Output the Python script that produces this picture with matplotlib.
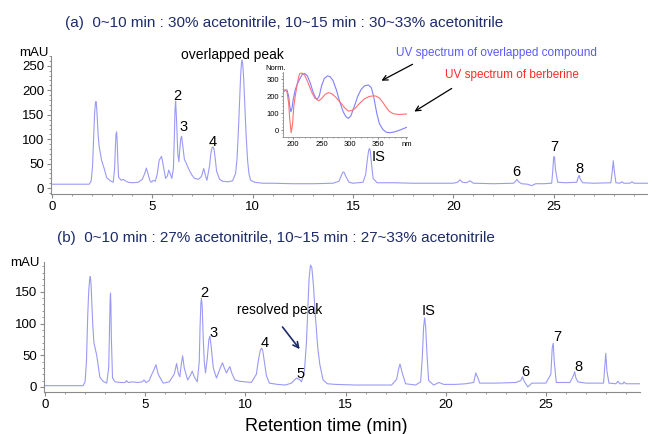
import matplotlib
matplotlib.use("Agg")
import matplotlib.pyplot as plt
from matplotlib.ticker import MultipleLocator

plt.rcParams['font.family'] = ['Liberation Sans', 'DejaVu Sans']

# cromatograma (a): tiempo (min) y señal (mAU)
tiempo_a = [0, 1.85, 1.95, 2.02, 2.07, 2.12, 2.16, 2.19, 2.22, 2.26, 2.3, 2.35, 2.47, 2.6, 2.72,
            2.9, 3.05, 3.12, 3.16, 3.19, 3.22, 3.25, 3.28, 3.32, 3.45, 3.55, 3.65, 3.8, 4.0, 4.3,
            4.5, 4.62, 4.7, 4.78, 4.88, 4.95, 5.05, 5.15, 5.25, 5.34, 5.46, 5.55, 5.66, 5.75, 5.82,
            5.9, 5.97, 6.05, 6.1, 6.13, 6.16, 6.2, 6.27, 6.32, 6.38, 6.42, 6.46, 6.52, 6.6, 6.68,
            6.8, 6.95, 7.1, 7.3, 7.45, 7.56, 7.65, 7.72, 7.85, 7.92, 7.98, 8.03, 8.08, 8.14, 8.2,
            8.35, 8.5, 8.8, 9.0, 9.15, 9.22, 9.28, 9.35, 9.4, 9.44, 9.47, 9.5, 9.55, 9.6, 9.67,
            9.75, 9.82, 9.9, 10.1, 10.5, 11.0, 12, 13, 14.0, 14.3, 14.42, 14.5, 14.56, 14.64, 14.8,
            15.0, 15.5, 15.63, 15.72, 15.78, 15.82, 15.86, 15.92, 16.0, 16.2, 17.0, 18, 19, 20.0,
            20.2, 20.33, 20.45, 20.65, 20.83, 21.0, 22, 23.0, 23.1, 23.17, 23.25, 23.4, 23.7, 23.9,
            24.1, 24.5, 24.9, 24.96, 25.0, 25.04, 25.09, 25.2, 25.6, 26.15, 26.22, 26.27, 26.33,
            26.45, 27.0, 27.85, 27.92, 27.97, 28.02, 28.1, 28.3, 28.4, 28.5, 28.8, 28.9, 29.0, 29.7]
senal_a = [8, 8, 14, 45, 100, 150, 172, 177, 168, 140, 108, 85, 57, 40, 22,
           15, 12, 40, 85, 110, 115, 95, 55, 22, 16, 18, 15, 12, 11, 12,
           18, 30, 41, 30, 15, 12, 16, 14, 30, 57, 65, 45, 20, 25, 37,
           28, 20, 40, 110, 160, 178, 145, 70, 54, 85, 102, 106, 85, 58, 52,
           40, 28, 20, 18, 24, 40, 25, 16, 45, 72, 83, 84, 78, 58, 35,
           18, 14, 13, 15, 30, 60, 110, 180, 230, 255, 262, 255, 225, 175, 110,
           55, 28, 16, 12, 10, 10, 9, 9, 10, 14, 26, 33, 32, 24, 12,
           10, 12, 28, 60, 77, 81, 76, 50, 20, 11, 11, 10, 10, 10,
           12, 17, 12, 11, 15, 10, 9, 10, 14, 18, 13, 9, 8, 5,
           9, 9, 10, 38, 64, 64, 38, 12, 11, 12, 22, 26, 18,
           11, 10, 11, 35, 56, 35, 11, 10, 13, 10, 10, 13, 10, 10]

# cromatograma (b)
tiempo_b = [0, 1.9, 2.0, 2.07, 2.13, 2.18, 2.23, 2.26, 2.3, 2.34, 2.39, 2.44, 2.58, 2.74, 2.9,
            3.08, 3.18, 3.22, 3.25, 3.27, 3.29, 3.31, 3.37, 3.5, 3.8, 4.0, 4.07, 4.15, 4.4, 4.6,
            4.85, 4.94, 5.05, 5.2, 5.32, 5.45, 5.54, 5.65, 5.9, 6.2, 6.45, 6.57, 6.65, 6.73, 6.8,
            6.87, 6.95, 7.12, 7.25, 7.35, 7.45, 7.6, 7.7, 7.74, 7.78, 7.81, 7.85, 7.9, 7.95, 8.01,
            8.1, 8.18, 8.23, 8.3, 8.4, 8.56, 8.75, 8.86, 8.95, 9.06, 9.15, 9.23, 9.32, 9.48, 9.7,
            10.0, 10.3, 10.55, 10.65, 10.75, 10.81, 10.87, 10.95, 11.05, 11.2, 11.6, 12.0, 12.3,
            12.55, 12.7, 12.8, 12.95, 13.05, 13.12, 13.18, 13.25, 13.32, 13.4, 13.5, 13.62, 13.72,
            13.88, 14.1, 14.5, 15.5, 16.5, 17.3, 17.55, 17.65, 17.72, 17.85, 18.0, 18.5, 18.75,
            18.83, 18.9, 18.95, 19.0, 19.07, 19.15, 19.4, 19.67, 19.9, 20.5, 21.0, 21.4, 21.5,
            21.6, 21.7, 22.5, 23.5, 23.75, 23.83, 23.92, 24.1, 24.3, 25.0, 25.25, 25.32, 25.37,
            25.42, 25.52, 26.2, 26.38, 26.44, 26.5, 26.6, 27.0, 27.88, 27.95, 27.99, 28.05,
            28.15, 28.5, 28.6, 28.7, 28.85, 28.9, 29.0, 29.7]
senal_b = [2, 2, 8, 40, 110, 150, 170, 174, 162, 130, 95, 70, 50, 15, 9,
           6, 30, 95, 138, 148, 130, 80, 14, 8, 7, 7, 10, 7, 8, 7,
           8, 11, 7, 10, 19, 28, 35, 20, 6, 8, 20, 37, 22, 16, 35,
           49, 30, 11, 18, 25, 16, 8, 40, 95, 132, 140, 125, 75, 40, 22,
           45, 75, 80, 62, 30, 14, 30, 38, 30, 22, 28, 32, 22, 11, 9,
           8, 7, 20, 42, 58, 61, 57, 40, 18, 6, 4, 3, 6,
           14, 12, 8, 25, 70, 125, 170, 192, 188, 160, 110, 60, 35,
           11, 5, 4, 3, 3, 3, 12, 28, 36, 20, 5, 3, 8,
           45, 95, 109, 95, 50, 10, 3, 7, 4, 4, 5, 7, 22,
           15, 6, 6, 7, 10, 16, 9, 0, 6, 6, 20, 62, 69,
           40, 7, 7, 18, 24, 14, 8, 6, 6, 35, 53, 25,
           6, 5, 9, 5, 5, 8, 5, 5]

# espectros UV del recuadro: longitud de onda (nm) y absorbancia normalizada
nm_azul = [183, 186, 189, 192, 194, 196, 198, 200, 203.5, 207, 212, 216, 220, 225, 230, 235, 240,
           242, 246, 250, 255, 260.5, 265, 270, 276, 282, 288, 293, 297.5, 302, 308, 314, 320,
           326, 333, 338, 342, 347.6, 352, 358, 364, 371, 380, 390, 400]
norm_azul = [227, 235, 237, 200, 140, 108, 130, 180, 237, 270, 305, 328, 335, 320, 280, 225, 188,
             181, 200, 260, 305, 320, 315, 295, 240, 170, 110, 80, 69, 85, 140, 200, 240,
             262, 266, 250, 200, 99, 40, 5, -12, -16, -10, 2, 16]
nm_rojo = [183, 186, 189, 192, 194, 196.5, 199, 201, 203.5, 207, 210, 212, 216, 220, 225, 232,
           238, 245, 250, 256, 262, 268, 275, 282, 290, 297.5, 303, 310, 318, 326, 334, 341, 346,
           352, 358, 364, 370, 376.5, 385, 392, 400]
norm_rojo = [237, 237, 227, 160, 60, -16, 40, 140, 197, 270, 318, 335, 336, 325, 290, 230,
             190, 173, 185, 210, 221, 215, 195, 168, 135, 112, 115, 130, 160, 185, 198, 202, 201,
             190, 165, 135, 110, 97, 92, 93, 95]

# etiquetas de picos (texto, tiempo, altura)
picos_a = [("2", 6.22, 188), ("3", 6.57, 124), ("4", 8.01, 94), ("IS", 16.27, 64),
           ("6", 23.13, 33), ("7", 25.02, 84), ("8", 26.3, 40)]
picos_b = [("2", 7.96, 148), ("3", 8.43, 85), ("4", 10.97, 69), ("5", 12.77, 20.5),
           ("IS", 19.13, 120), ("6", 23.97, 24), ("7", 25.58, 79), ("8", 26.61, 32)]

color_traza = "#9a9af6"
color_titulo = "#1d2b6b"
gris = "#8a8a8a"

fig = plt.figure(figsize=(6.48, 4.34), dpi=100)


def estilo_ejes(ax, paso_y):
    for lado in ["top", "right"]:
        ax.spines[lado].set_visible(False)
    for lado in ["left", "bottom"]:
        ax.spines[lado].set_color(gris)
        ax.spines[lado].set_linewidth(0.8)
    ax.xaxis.set_major_locator(MultipleLocator(5))
    ax.xaxis.set_minor_locator(MultipleLocator(1))
    ax.yaxis.set_major_locator(MultipleLocator(paso_y))
    ax.yaxis.set_minor_locator(MultipleLocator(10))
    ax.tick_params(which="major", length=3, color=gris, labelsize=9.5, pad=2)
    ax.tick_params(which="minor", length=1.5, color=gris)


# panel (a)
ax1 = fig.add_axes([51 / 648, 240 / 434, 597 / 648, 138 / 434])
ax1.plot(tiempo_a, senal_a, color=color_traza, lw=0.8)
ax1.set_xlim(-0.05, 29.7)
ax1.set_ylim(-12, 270)
estilo_ejes(ax1, 50)
ax1.set_yticks([0, 50, 100, 150, 200, 250])
for txt, x, y in picos_a:
    ax1.text(x, y, txt, ha="center", va="center", fontsize=10.5)
ax1.text(9.0, 273, "overlapped peak", ha="center", va="center", fontsize=10)
fig.text(34 / 648, 1 - 53 / 434, "mAU", ha="center", va="center", fontsize=9.5)
fig.text(65 / 648, 1 - 22.7 / 434, "(a)  0~10 min : 30% acetonitrile, 10~15 min : 30~33% acetonitrile",
         ha="left", va="center", fontsize=11, color=color_titulo)
fig.text(496 / 648, 1 - 53 / 434, "UV spectrum of overlapped compound", ha="center", va="center",
         fontsize=8.5, color="#5a5aff")
fig.text(512 / 648, 1 - 75 / 434, "UV spectrum of berberine", ha="center", va="center",
         fontsize=8.5, color="#ff2a2a")
fig.add_artist(matplotlib.patches.FancyArrowPatch((415 / 648, 1 - 63 / 434), (379 / 648, 1 - 82 / 434),
               transform=fig.transFigure, arrowstyle="->", mutation_scale=9, color="black", lw=0.9))
fig.add_artist(matplotlib.patches.FancyArrowPatch((454 / 648, 1 - 87 / 434), (412 / 648, 1 - 113 / 434),
               transform=fig.transFigure, arrowstyle="->", mutation_scale=9, color="black", lw=0.9))

# recuadro con espectros UV
axi = fig.add_axes([283 / 648, 297 / 434, 124 / 648, 65 / 434])
axi.plot(nm_azul, norm_azul, color="#8080ff", lw=0.8)
axi.plot(nm_rojo, norm_rojo, color="#ff7070", lw=0.8)
axi.set_xlim(182, 401)
axi.set_ylim(-41, 343)
for lado in ["top", "right"]:
    axi.spines[lado].set_visible(False)
for lado in ["left", "bottom"]:
    axi.spines[lado].set_color(gris)
    axi.spines[lado].set_linewidth(0.6)
axi.set_xticks([200, 250, 300, 350, 400])
axi.set_xticklabels(["200", "250", "300", "350", "nm"])
axi.set_yticks([0, 100, 200, 300])
axi.xaxis.set_minor_locator(MultipleLocator(10))
axi.yaxis.set_minor_locator(MultipleLocator(20))
axi.tick_params(which="major", length=1.5, color=gris, labelsize=5.5, pad=1.5)
axi.tick_params(which="minor", length=1, color=gris)
axi.patch.set_alpha(0)
axi.text(-0.145, 1.05, "Norm.", transform=axi.transAxes, ha="left", va="center", fontsize=5.5)

# panel (b)
ax2 = fig.add_axes([44 / 648, 42 / 434, 596 / 648, 130 / 434])
ax2.plot(tiempo_b, senal_b, color=color_traza, lw=0.8)
ax2.set_xlim(-0.05, 29.7)
ax2.set_ylim(-8, 197)
estilo_ejes(ax2, 50)
ax2.set_yticks([0, 50, 100, 150])
for txt, x, y in picos_b:
    ax2.text(x, y, txt, ha="center", va="center", fontsize=10.5)
ax2.text(11.72, 121, "resolved peak", ha="center", va="center", fontsize=9.8)
ax2.annotate("", xy=(12.8, 56), xytext=(11.77, 98),
             arrowprops=dict(arrowstyle="->", color=color_titulo, lw=1.2, mutation_scale=10))
fig.text(25 / 648, 1 - 262.7 / 434, "mAU", ha="center", va="center", fontsize=9.5)
fig.text(57 / 648, 1 - 238 / 434, "(b)  0~10 min : 27% acetonitrile, 10~15 min : 27~33% acetonitrile",
         ha="left", va="center", fontsize=11, color=color_titulo)
fig.text(326 / 648, 1 - 426.7 / 434, "Retention time (min)", ha="center", va="center", fontsize=13)

fig.savefig("out.png", dpi=100)
